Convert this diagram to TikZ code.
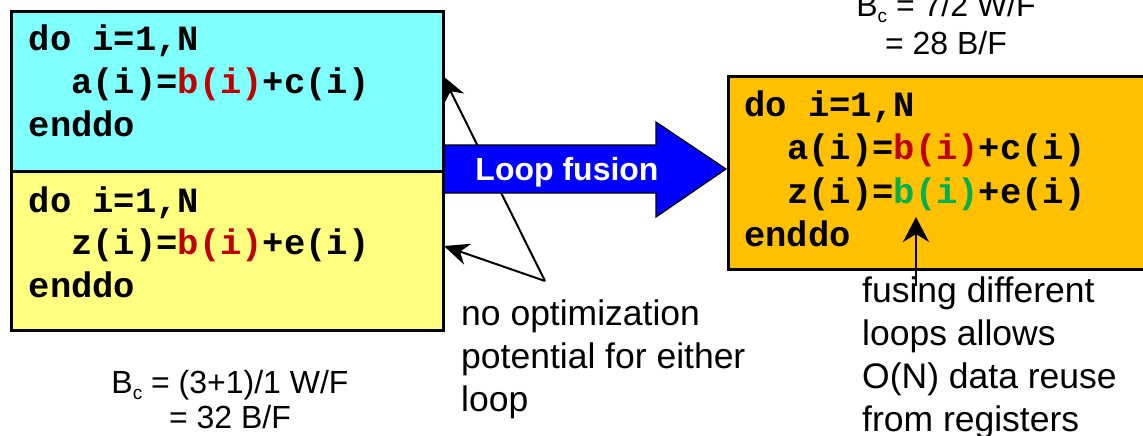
\documentclass[tikz,border=0pt]{standalone}
\usepackage{fontspec}
\setmainfont{Liberation Sans}
\setmonofont{Liberation Mono}
\usetikzlibrary{arrows.meta}
\definecolor{loopcyan}{HTML}{80FFFF}
\definecolor{loopyellow}{HTML}{FFFF80}
\definecolor{loopfused}{HTML}{FFC000}
\definecolor{fuseblue}{HTML}{0000FF}
\definecolor{codered}{HTML}{C00000}
\definecolor{codegreen}{HTML}{00B050}
\newcommand{\sub}[1]{\raisebox{-6pt}{\fontsize{19}{19}\selectfont #1}}
\begin{document}
\begin{tikzpicture}[x=1pt,y=-1pt,
  loopbox/.style={draw=black, line width=2.6pt, inner sep=0, anchor=north west},
  code/.style={anchor=base west, inner sep=0, font=\fontsize{35.5}{42}\ttfamily\bfseries},
  label/.style={anchor=base west, inner sep=0, font=\fontsize{35.5}{43}\selectfont},
  note/.style={anchor=base, inner sep=0, font=\fontsize{32}{36}\selectfont},
  pointer/.style={line width=2pt, -{Stealth[length=25pt,width=22pt,inset=8pt]}},
  reusearrow/.style={line width=2pt, -{Stealth[length=25pt,width=26pt,inset=8pt]}}]
\useasboundingbox (0,0) rectangle (1143,436);

% pointers from the remark to both loops (behind the fusion arrow)
\coordinate (apex) at (545,281);
\coordinate (tipA) at (443,76);
\coordinate (tipB) at (444,246);
\draw[pointer] (apex) -- (tipA);
\draw[pointer] (apex) -- (tipB);

% the fusion arrow
\draw[fill=fuseblue, line width=1.2pt, line join=miter]
  (442,145) -- (656,145) -- (656,122) -- (726,169) -- (656,217) -- (656,193) -- (442,193) -- cycle;
\node[anchor=base, inner sep=0, text=white, font=\fontsize{32}{32}\selectfont\bfseries] (fuse) at (567,180) {Loop fusion};

% the two separate loops
\node[loopbox, fill=loopcyan, minimum width=432, minimum height=160] (loopA) at (10,10) {};
\node[loopbox, fill=loopyellow, minimum width=432, minimum height=159] (loopB) at (10,170) {};

\node[code] (a1) at (28.5,51) {do i=1,N};
\node[code] (a2) at (71,93.5) {a(i)=\textcolor{codered}{b(i)}+c(i)};
\node[code] (a3) at (28.5,136) {enddo};

\node[code] (b1) at (28.5,212) {do i=1,N};
\node[code] (b2) at (71,254.5) {z(i)=\textcolor{codered}{b(i)}+e(i)};
\node[code] (b3) at (28.5,297) {enddo};

% the fused loop
\node[loopbox, fill=loopfused, minimum width=440, minimum height=193] (loopF) at (727,75) {};
\node[code] (f1) at (744,116) {do i=1,N};
\node[code] (f2) at (787,159.5) {a(i)=\textcolor{codered}{b(i)}+c(i)};
\node[code] (f3) at (787,203) {z(i)=\textcolor{codegreen}{b(i)}+e(i)};
\node[code] (f4) at (744,246) {enddo};

% reuse remark
\coordinate (reuse) at (916,217);
\coordinate (reusefoot) at (916,286);
\draw[reusearrow] (reusefoot) -- (reuse);
\node[label] (r1) at (862,302) {fusing different};
\node[label] (r2) at (862,345) {loops allows};
\node[label] (r3) at (862,388) {O(N) data reuse};
\node[label] (r4) at (862,431) {from registers};

% remark on the separate loops
\node[label] (n1) at (461,325) {no optimization};
\node[label] (n2) at (461,368) {potential for either};
\node[label] (n3) at (461,411) {loop};

% code balances
\node[note] (bcA1) at (230,393) {B\sub{c} = (3+1)/1 W/F};
\node[note] (bcA2) at (230,428) {= 32 B/F};
\node[note] (bcF1) at (946,17) {B\sub{c} = 7/2 W/F};
\node[note] (bcF2) at (946,55) {= 28 B/F};
\end{tikzpicture}
\end{document}
